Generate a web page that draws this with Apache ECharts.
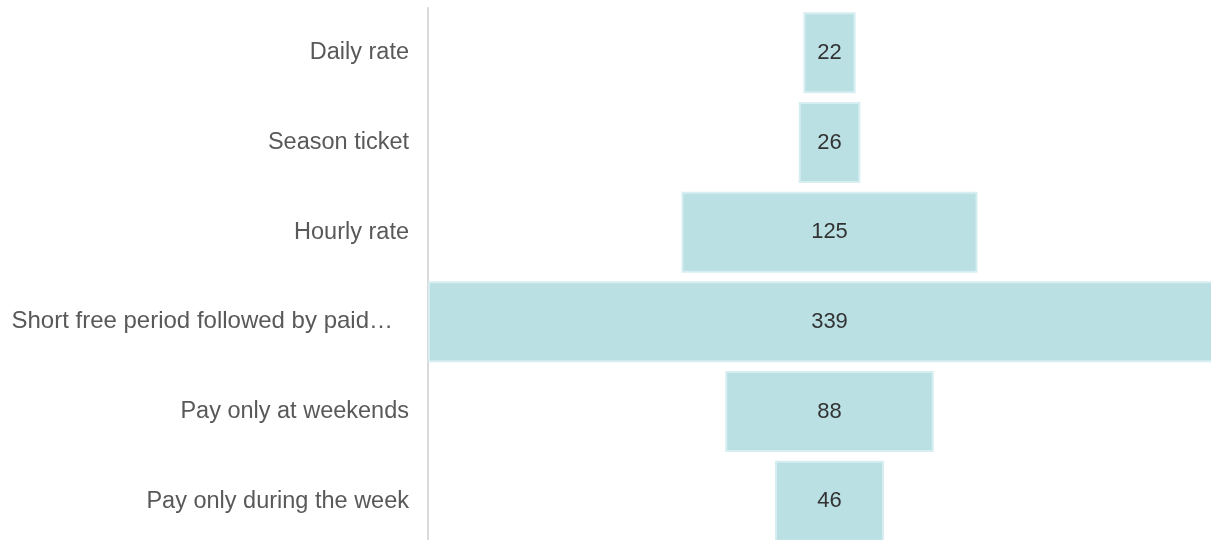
<!DOCTYPE html>
<html>
<head>
<meta charset="utf-8">
<script src="https://cdn.jsdelivr.net/npm/echarts@6/dist/echarts.min.js"></script>
<style>
  html, body { margin: 0; padding: 0; background: #fff; }
  #chart { width: 1211px; height: 540px; }
</style>
</head>
<body>
<div id="chart"></div>
<script>
// parking payment options (top to bottom)
var categories = [
  'Daily rate',
  'Season ticket',
  'Hourly rate',
  'Short free period followed by paid\u2026',
  'Pay only at weekends',
  'Pay only during the week'
]
var counts = [22, 26, 125, 339, 88, 46]

var maxCount = Math.max.apply(null, counts)
// invisible spacer so each bar sits centred on the axis
var spacer = counts.map(function (v) { return (maxCount - v) / 2 })

var chart = echarts.init(document.getElementById('chart'))
chart.setOption({
  animation: false,
  grid: {
    left: 428,
    width: 803, // widest bar runs off the right edge
    top: 8,
    height: 538,
    outerBoundsMode: 'none'
  },
  xAxis: {
    type: 'value',
    min: 0,
    max: maxCount,
    show: false
  },
  yAxis: {
    type: 'category',
    data: categories,
    inverse: true,
    axisTick: { show: false },
    axisLine: {
      lineStyle: { color: '#dadada', width: 2 }
    },
    axisLabel: {
      margin: 19,
      color: '#595959',
      fontSize: 23.5,
      fontFamily: 'Liberation Sans, Arial, sans-serif',
      formatter: function (val) {
        // truncated label keeps a little gap after the ellipsis
        if (val.slice(-1) === '\u2026') return '{cut|' + val + '}'
        return val
      },
      rich: {
        cut: {
          color: '#595959',
          fontSize: 24,
          fontFamily: 'Liberation Sans, Arial, sans-serif',
          padding: [0, 16, 0, 0]
        }
      }
    }
  },
  series: [
    {
      type: 'bar',
      stack: 'funnel',
      data: spacer,
      barWidth: 81,
      itemStyle: { color: 'transparent' },
      silent: true
    },
    {
      type: 'bar',
      stack: 'funnel',
      data: counts,
      barWidth: 81,
      itemStyle: {
        color: '#bae0e4',
        borderColor: '#d6eef1',
        borderWidth: 2
      },
      label: {
        show: true,
        position: 'inside',
        color: '#333',
        fontSize: 22,
        fontFamily: 'Liberation Sans, Arial, sans-serif'
      }
    }
  ]
})
</script>
</body>
</html>
